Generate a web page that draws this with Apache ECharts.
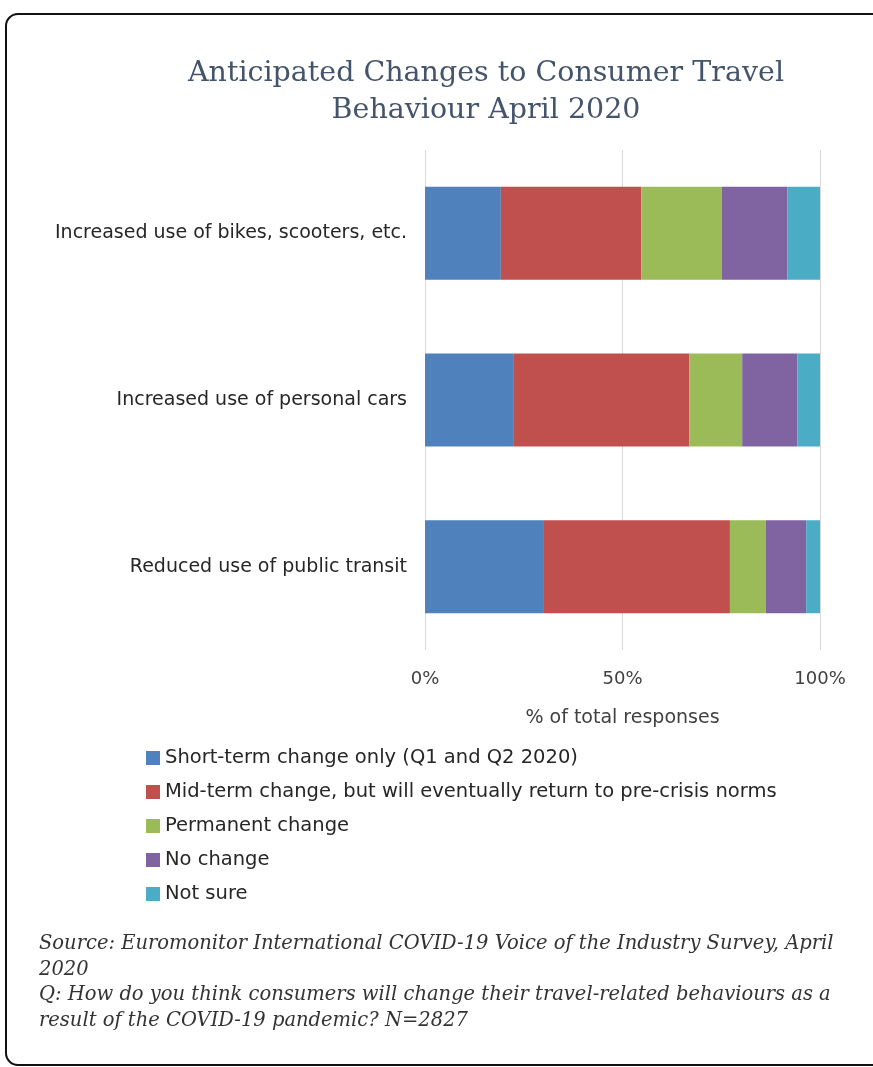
<!DOCTYPE html>
<html>
<head>
<meta charset="utf-8">
<script src="https://cdn.jsdelivr.net/npm/echarts@6/dist/echarts.min.js"></script>
<style>
  html, body { margin: 0; padding: 0; background: #fff; }
  #chart { width: 873px; height: 1067px; }
</style>
</head>
<body>
<div id="chart"></div>
<script>
// Survey answers, share of total responses (%)
const categories = [
  'Increased use of bikes, scooters, etc.',
  'Increased use of personal cars',
  'Reduced use of public transit'
];
const shortTerm = [19.2, 22.5, 29.9];
const midTerm = [35.6, 44.4, 47.3];
const permanent = [20.3, 13.4, 9.1];
const noChange = [16.6, 14.0, 10.2];
const notSure = [8.3, 5.7, 3.5];

const seriesNames = [
  'Short-term change only (Q1 and Q2 2020)',
  'Mid-term change, but will eventually return to pre-crisis norms',
  'Permanent change',
  'No change',
  'Not sure'
];
const seriesValues = [shortTerm, midTerm, permanent, noChange, notSure];
const colors = ['#4F81BD', '#C0504D', '#9BBB59', '#8064A2', '#4BACC6'];

const sourceLines = [
  'Source: Euromonitor International COVID-19 Voice of the Industry Survey, April',
  '2020',
  'Q: How do you think consumers will change their travel-related behaviours as a',
  'result of the COVID-19 pandemic? N=2827'
];

const sansFont = '"DejaVu Sans", sans-serif';
const serifFont = '"DejaVu Serif", serif';
const textColor = '#404040';

const chart = echarts.init(document.getElementById('chart'));

// source note under the legend, one text element per line
const footer = sourceLines.map((line, i) => ({
  type: 'text',
  left: 39,
  top: 934 + i * 25.7,
  style: {
    text: line,
    font: 'italic 19.5px ' + serifFont,
    fill: '#333333'
  }
}));

chart.setOption({
  animation: false,
  color: colors,
  title: {
    text: 'Anticipated Changes to Consumer Travel\nBehaviour April 2020',
    left: 481,
    textAlign: 'center',
    top: 50,
    textStyle: {
      fontFamily: serifFont,
      fontWeight: 'normal',
      fontSize: 28.5,
      lineHeight: 37,
      color: '#44546A'
    }
  },
  grid: { left: 425, right: 53, top: 150, bottom: 417 },
  xAxis: {
    type: 'value',
    min: 0,
    max: 100,
    interval: 50,
    name: '% of total responses',
    nameLocation: 'middle',
    nameGap: 59,
    nameTextStyle: { fontFamily: sansFont, fontSize: 19, color: textColor },
    axisLine: { show: false },
    axisTick: { show: false },
    axisLabel: {
      margin: 20,
      fontFamily: sansFont,
      fontSize: 18,
      color: textColor,
      formatter: v => v + '%'
    },
    splitLine: { lineStyle: { color: '#D9D9D9', width: 1 } }
  },
  yAxis: {
    type: 'category',
    inverse: true,
    data: categories,
    axisLine: { show: false },
    axisTick: { show: false },
    axisLabel: {
      margin: 18,
      fontFamily: sansFont,
      fontSize: 19,
      color: '#262626'
    }
  },
  legend: {
    orient: 'vertical',
    left: 141,
    top: 742,
    icon: 'rect',
    itemWidth: 14,
    itemHeight: 14,
    itemGap: 12,
    textStyle: { fontFamily: sansFont, fontSize: 19.5, color: '#262626', lineHeight: 22 },
    data: seriesNames
  },
  series: seriesNames.map((name, i) => ({
    name: name,
    type: 'bar',
    stack: 'total',
    barWidth: 93,
    data: seriesValues[i]
  })),
  graphic: [
    {
      type: 'rect',
      shape: { x: 6, y: 14, width: 900, height: 1051, r: 12 },
      style: { fill: 'none', stroke: '#111111', lineWidth: 2 },
      silent: true
    }
  ].concat(footer)
});
</script>
</body>
</html>
